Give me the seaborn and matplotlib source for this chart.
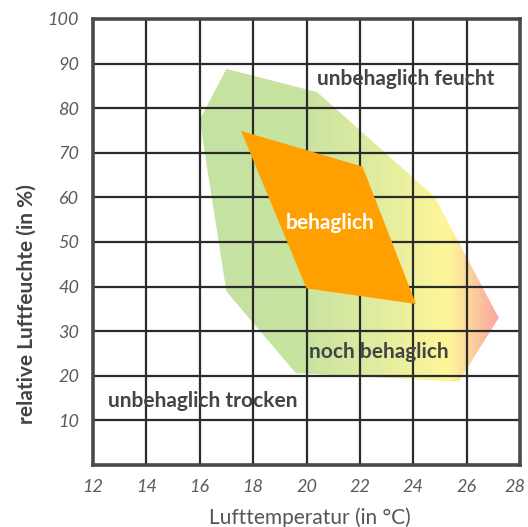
import matplotlib.pyplot as plt
import matplotlib.transforms as mtransforms
import numpy as np
import seaborn as sns
from matplotlib.colors import LinearSegmentedColormap
from matplotlib.patches import Polygon

# outer zone ("noch behaglich"), temperature / humidity corners
outer_temp = [17.0, 20.4, 24.8, 27.2, 25.7, 19.6, 17.0, 16.0]
outer_hum = [88.8, 83.6, 60.1, 33.0, 18.7, 20.6, 38.9, 77.4]

# inner zone ("behaglich")
inner_temp = [17.55, 22.1, 24.1, 20.0]
inner_hum = [74.9, 66.9, 36.1, 39.6]

x_ticks = [12, 14, 16, 18, 20, 22, 24, 26, 28]
y_ticks = [10, 20, 30, 40, 50, 60, 70, 80, 90, 100]

zone_labels = ["unbehaglich feucht", "behaglich", "noch behaglich", "unbehaglich trocken"]
label_temp = [23.7, 20.9, 22.7, 16.1]
label_hum = [86.5, 54.3, 25.3, 14.3]
label_colors = ["#444444", "white", "#444444", "#444444"]

sns.set_theme(style="white")
plt.rcParams["font.family"] = ["Lato", "DejaVu Sans"]

fig = plt.figure(figsize=(5.28, 5.27), dpi=100)
ax = fig.add_axes([0.176, 0.1176, 0.809, 0.8464])

# gradient fill for the outer zone, clipped to the polygon
cmap = LinearSegmentedColormap.from_list(
    "zone",
    [(0.0, "#c4e2a3"), (0.35, "#c8e4a0"), (0.6, "#e2eca0"),
     (0.83, "#fff799"), (1.0, "#f9a3a0")],
)
grad = np.linspace(0, 1, 256).reshape(1, -1)
im = ax.imshow(grad, cmap=cmap, aspect="auto",
               extent=[min(outer_temp), max(outer_temp), min(outer_hum), max(outer_hum)],
               zorder=1)
clip = Polygon(np.column_stack([outer_temp, outer_hum]), closed=True,
               transform=ax.transData, facecolor="none", edgecolor="none")
ax.add_patch(clip)
im.set_clip_path(clip)

# grid on top of the green zone
for x in x_ticks[1:-1]:
    ax.axvline(x, color="#2b2b2b", lw=1.6, zorder=2)
for y in y_ticks[:-1]:
    ax.axhline(y, color="#2b2b2b", lw=1.6, zorder=2)

ax.fill(inner_temp, inner_hum, color="#ffa000", lw=0, zorder=3)

for txt, tx, hy, c in zip(zone_labels, label_temp, label_hum, label_colors):
    ax.text(tx, hy, txt, color=c, fontsize=15, fontweight="bold",
            ha="center", va="center", zorder=4)

ax.set_xlim(12, 28)
ax.set_ylim(0, 100)
ax.set_xticks(x_ticks)
ax.set_yticks(y_ticks)
ax.tick_params(axis="both", length=0, labelsize=13, labelcolor="#5a5a5a", pad=10)
for lab in ax.get_xticklabels() + ax.get_yticklabels():
    lab.set_fontstyle("italic")

# keep the last x tick label inside the canvas
last = ax.get_xticklabels()[-1]
last.set_transform(last.get_transform() +
                   mtransforms.ScaledTranslation(-5 / 100, 0, fig.dpi_scale_trans))

for sp in ax.spines.values():
    sp.set_visible(True)
    sp.set_color("#4a4a4a")
    sp.set_linewidth(2.6)
    sp.set_zorder(5)

ax.set_xlabel("Lufttemperatur (in °C)", fontsize=15, color="#555555", va="center")
ax.xaxis.set_label_coords(0.509, -0.118)
ax.set_ylabel("relative Luftfeuchte (in %)", fontsize=15, color="#444444",
              fontweight="bold", va="center")
ax.yaxis.set_label_coords(-0.155, 0.361)

fig.savefig("out.png", dpi=100)
